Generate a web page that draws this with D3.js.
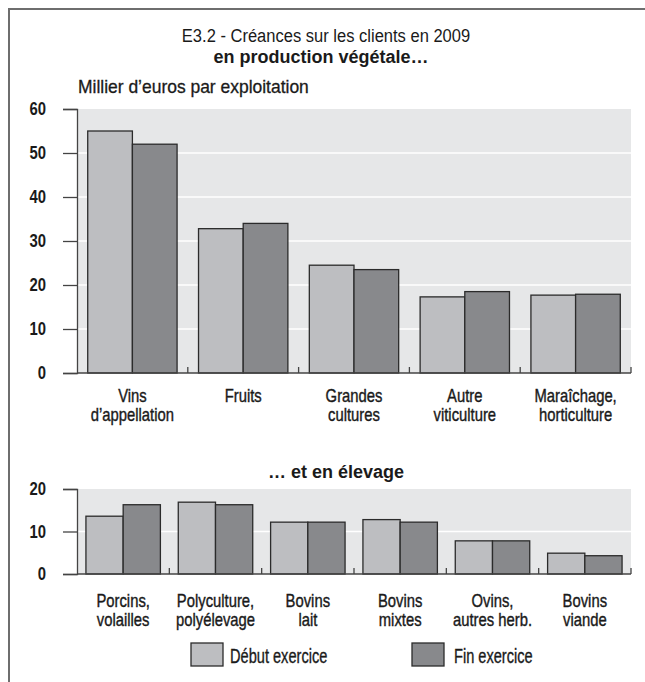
<!DOCTYPE html>
<html><head><meta charset="utf-8">
<script src="https://cdn.jsdelivr.net/npm/d3@7"></script>
<style>
html,body{margin:0;padding:0;background:#fff;}
svg{display:block;}
text{font-family:"Liberation Sans",Arial,sans-serif;fill:#1a1a1a;}
</style></head>
<body>
<script>
// ---- Data ----
const topCategories = [["Vins","d’appellation"],["Fruits"],["Grandes","cultures"],["Autre","viticulture"],["Maraîchage,","horticulture"]];
const topDebut = [55, 32.8, 24.5, 17.3, 17.7];
const topFin   = [52, 34, 23.5, 18.5, 17.9];
const topTicks = [0,10,20,30,40,50,60];

const botCategories = [["Porcins,","volailles"],["Polyculture,","polyélevage"],["Bovins","lait"],["Bovins","mixtes"],["Ovins,","autres herb."],["Bovins","viande"]];
const botDebut = [13.6, 16.9, 12.2, 12.8, 7.8, 4.9];
const botFin   = [16.3, 16.3, 12.2, 12.2, 7.8, 4.3];
const botTicks = [0,10,20];

const seriesNames = ["Début exercice","Fin exercice"];
const titleLine1 = "E3.2 - Créances sur les clients en 2009";
const titleLine2 = "en production végétale…";
const subTitle2 = "… et en élevage";
const unitLabel = "Millier d’euros par exploitation";

const colors = ["#bdbec1","#88898c"];
const W = 645, H = 682;

const svg = d3.select("body").append("svg").attr("width",W).attr("height",H);

// condensed text helper
function ctext(parent, x, y, lines, o){
  const g = parent.append("g").attr("transform",`translate(${x},${y}) scale(${o.sx||1},1)`);
  [].concat(lines).forEach((l,k)=>{
    const t = g.append("text").attr("text-anchor",o.anchor||"start").attr("font-size",o.size)
      .attr("font-weight",o.weight||"normal").attr("x",0).attr("y",k*(o.lh||18.5)).text(l);
    if (o.stroke) t.attr("stroke","#1a1a1a").attr("stroke-width",o.stroke);
  });
  return g;
}

// frame
svg.append("rect").attr("x",9).attr("y",9).attr("width",700).attr("height",700)
  .attr("fill","none").attr("stroke","#6e6e6e").attr("stroke-width",2);

// titles
ctext(svg, 326, 42, titleLine1, {size:19, sx:0.87, anchor:"middle"});
ctext(svg, 321, 63, titleLine2, {size:18, weight:"bold", anchor:"middle"});
ctext(svg, 78, 93, unitLabel, {size:18, sx:0.97, stroke:0.3});
ctext(svg, 336, 478, subTitle2, {size:18, weight:"bold", anchor:"middle"});

function panel(cfg){
  const {cats, s1, s2, ticks, yMax, top, bottom, left, right, labelOffset} = cfg;
  const g = svg.append("g");
  const y = d3.scaleLinear().domain([0,yMax]).range([bottom, top]);
  const x0 = d3.scaleBand().domain(d3.range(cats.length)).range([left,right]).padding(0);
  const x1 = d3.scaleBand().domain([0,1]).range([0,x0.bandwidth()]).paddingInner(0).paddingOuter(0.24);

  g.append("rect").attr("x",left).attr("y",top).attr("width",right-left).attr("height",bottom-top).attr("fill","#e6e7e8");
  g.selectAll("line.grid").data(ticks.filter(t=>t>0 && t<yMax)).enter().append("line")
    .attr("x1",left).attr("x2",right).attr("y1",d=>y(d)).attr("y2",d=>y(d))
    .attr("stroke","#fff").attr("stroke-width",1.5);

  const data = cats.map((c,i)=>[s1[i], s2[i]]);
  const grp = g.selectAll("g.cat").data(data).enter().append("g")
    .attr("transform",(d,i)=>`translate(${x0(i)},0)`);
  grp.selectAll("rect").data(d=>d).enter().append("rect")
    .attr("x",(d,j)=>x1(j)).attr("width",x1.bandwidth())
    .attr("y",d=>y(d)).attr("height",d=>bottom-y(d))
    .attr("fill",(d,j)=>colors[j]).attr("stroke","#2b2b2b").attr("stroke-width",1.3);

  const ax = d3.axisLeft(y).tickValues(ticks).tickSize(14).tickFormat("");
  const ag = g.append("g").attr("transform",`translate(${left},0)`).call(ax);
  ag.select(".domain").attr("stroke","#444").attr("stroke-width",1.3);
  ag.selectAll(".tick line").attr("stroke","#444").attr("stroke-width",1.3);
  ticks.forEach(t=>{
    ctext(g, left-31, y(t)+6, String(t), {size:17.5, weight:"bold", sx:0.85, anchor:"end"});
  });

  g.append("line").attr("x1",left).attr("x2",right).attr("y1",bottom).attr("y2",bottom)
    .attr("stroke","#444").attr("stroke-width",1.3);
  g.selectAll("line.xt").data(d3.range(1,cats.length+1)).enter().append("line")
    .attr("x1",i=>i<cats.length?x0(i):right).attr("x2",i=>i<cats.length?x0(i):right)
    .attr("y1",bottom).attr("y2",bottom-6).attr("stroke","#444").attr("stroke-width",1.3);

  cats.forEach((c,i)=>{
    ctext(g, x0(i)+x0.bandwidth()/2, bottom+labelOffset, c, {size:18.5, sx:0.8, anchor:"middle", stroke:0.4, lh:18.7});
  });
}

panel({cats:topCategories, s1:topDebut, s2:topFin, ticks:topTicks, yMax:60, top:109, bottom:373, left:77, right:631, labelOffset:29});
panel({cats:botCategories, s1:botDebut, s2:botFin, ticks:botTicks, yMax:20, top:489, bottom:574, left:77, right:631, labelOffset:33});

// legend
const legendX = [191, 412];
const legendTextX = [230, 454];
seriesNames.forEach((n,i)=>{
  svg.append("rect").attr("x",legendX[i]).attr("y",643).attr("width",32).attr("height",23)
    .attr("fill",colors[i]).attr("stroke","#2b2b2b").attr("stroke-width",1.3);
  ctext(svg, legendTextX[i], 663, n, {size:20, sx:0.73, stroke:0.35});
});
</script>
</body></html>
